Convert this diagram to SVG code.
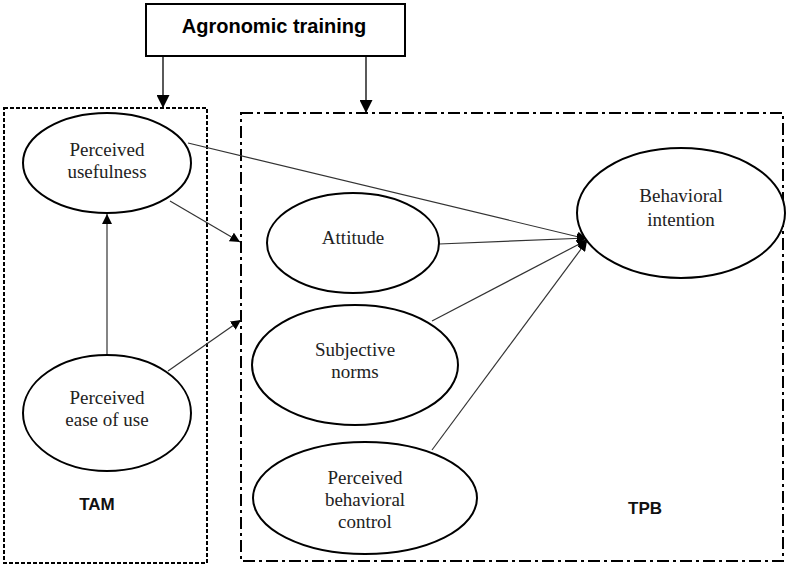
<svg xmlns="http://www.w3.org/2000/svg" width="790" height="567" viewBox="0 0 790 567">
<defs>
<marker id="ah" viewBox="0 0 10 10" refX="10" refY="5" markerWidth="10" markerHeight="10" markerUnits="userSpaceOnUse" orient="auto"><path d="M0,0 L10,5 L0,10 z" fill="#000"/></marker>
<marker id="ahb" viewBox="0 0 10 10" refX="10" refY="5" markerWidth="13" markerHeight="13" markerUnits="userSpaceOnUse" orient="auto"><path d="M0,0 L10,5 L0,10 z" fill="#000"/></marker>
</defs>
<style>
.node ellipse{fill:#fff;stroke:#000;stroke-width:2}
.lbl{font-family:"Liberation Serif","Times New Roman",serif;font-size:19px;fill:#222;text-anchor:middle}
.grp{font-family:"Liberation Sans",Arial,sans-serif;font-size:17px;font-weight:bold;fill:#111;text-anchor:middle}
.conn line{stroke:#333;stroke-width:1.2;fill:none;marker-end:url(#ah)}
.conn line.big{stroke:#000;stroke-width:1.3;marker-end:url(#ahb)}
</style>
<rect width="790" height="567" fill="#fff"/>
<g id="TAM-box">
<rect x="4" y="108" width="203" height="455" fill="none" stroke="#000" stroke-width="2" stroke-dasharray="4,2"/>
<text class="grp" x="97" y="510">TAM</text>
</g>
<g id="TPB-box">
<rect x="241" y="113" width="542" height="448" fill="none" stroke="#000" stroke-width="2" stroke-dasharray="12,4,3,4"/>
<text class="grp" x="645" y="514">TPB</text>
</g>
<g id="training">
<rect x="146" y="4" width="259" height="52" fill="#fff" stroke="#000" stroke-width="2"/>
<text x="274" y="33" font-family="Liberation Sans,Arial,sans-serif" font-size="20" font-weight="bold" text-anchor="middle" fill="#000">Agronomic training</text>
</g>
<g class="conn" id="connectors">
<line class="big" x1="163" y1="56" x2="163" y2="108"/>
<line class="big" x1="366" y1="56" x2="366" y2="113"/>
<line x1="107" y1="355" x2="107" y2="214"/>
<line x1="170" y1="201" x2="240" y2="242"/>
<line x1="168" y1="371" x2="241" y2="320"/>
<line x1="188" y1="143" x2="587" y2="239"/>
<line x1="439" y1="244" x2="587" y2="238"/>
<line x1="432" y1="321" x2="587" y2="240"/>
<line x1="432" y1="450" x2="587" y2="241"/>
</g>
<g class="node" id="PU">
<ellipse cx="107" cy="163" rx="84" ry="50"/>
<text class="lbl" x="107" y="156">Perceived</text>
<text class="lbl" x="107" y="178">usefulness</text>
</g>
<g class="node" id="PEOU">
<ellipse cx="107" cy="413" rx="84" ry="58"/>
<text class="lbl" x="107" y="404">Perceived</text>
<text class="lbl" x="107" y="426">ease of use</text>
</g>
<g class="node" id="ATT">
<ellipse cx="353" cy="243" rx="86" ry="50"/>
<text class="lbl" x="353" y="244">Attitude</text>
</g>
<g class="node" id="SN">
<ellipse cx="355" cy="365" rx="103" ry="60"/>
<text class="lbl" x="355" y="356">Subjective</text>
<text class="lbl" x="355" y="378">norms</text>
</g>
<g class="node" id="PBC">
<ellipse cx="365" cy="498" rx="112" ry="56"/>
<text class="lbl" x="365" y="484">Perceived</text>
<text class="lbl" x="365" y="506">behavioral</text>
<text class="lbl" x="365" y="528">control</text>
</g>
<g class="node" id="BI">
<ellipse cx="681" cy="213" rx="104" ry="65"/>
<text class="lbl" x="681" y="202">Behavioral</text>
<text class="lbl" x="681" y="226">intention</text>
</g>
</svg>
